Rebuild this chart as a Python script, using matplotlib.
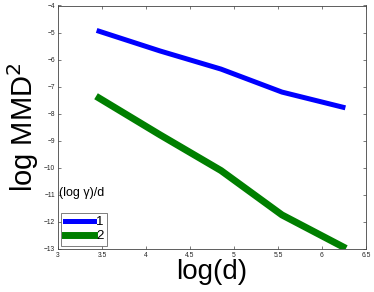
import numpy as np
import matplotlib
matplotlib.use("Agg")
import matplotlib.pyplot as plt

plt.rcParams["font.family"] = ["Liberation Sans", "DejaVu Sans"]

log_d = [3.466, 4.159, 4.852, 5.545, 6.238]
series_1 = [-4.95, -5.68, -6.35, -7.2, -7.76]
series_2 = [-7.42, -8.78, -10.1, -11.74, -12.92]
labels = ["1", "2"]
x_ticks = [3, 3.5, 4, 4.5, 5, 5.5, 6, 6.5]
x_tick_labels = ["3", "3.5", "4", "4.5", "5", "5.5", "6", "6.5"]
y_ticks = [-13, -12, -11, -10, -9, -8, -7, -6, -5, -4]

fig = plt.figure(figsize=(3.74, 2.92), dpi=100)
ax = fig.add_axes([58 / 374, 1 - 249 / 292, (366 - 58) / 374, (249 - 5.5) / 292])

ax.plot(log_d, series_1, color="#0000ff", linewidth=3.6, label=labels[0])
ax.plot(log_d, series_2, color="#007f00", linewidth=5.0, label=labels[1])

ax.set_xlim(3, 6.5)
ax.set_ylim(-13, -4)
ax.set_xticks(x_ticks)
ax.set_xticklabels(x_tick_labels)
ax.set_yticks(y_ticks)
ax.tick_params(direction="in", length=2, width=0.5, labelsize=4.8,
               top=True, right=True, colors="#444444", labelcolor="#222222", pad=2)
for s in ax.spines.values():
    s.set_linewidth(0.6)
    s.set_color("#444444")

ax.set_xlabel("log(d)", fontsize=20, labelpad=0)
ax.set_ylabel("log MMD$^2$", fontsize=21, labelpad=2)

ax.text(0.003, 0.232, "(log γ)/d", transform=ax.transAxes,
        fontsize=9, ha="left", va="center")
leg = ax.legend(loc="lower left", bbox_to_anchor=(0.0, 0.0), fontsize=9.5,
                handlelength=2.2, handletextpad=0.2, borderpad=0.25,
                labelspacing=0.15, borderaxespad=0.25, fancybox=False)
leg.get_frame().set_edgecolor("#444444")
leg.get_frame().set_linewidth(0.6)

fig.savefig("out.png", dpi=100)
